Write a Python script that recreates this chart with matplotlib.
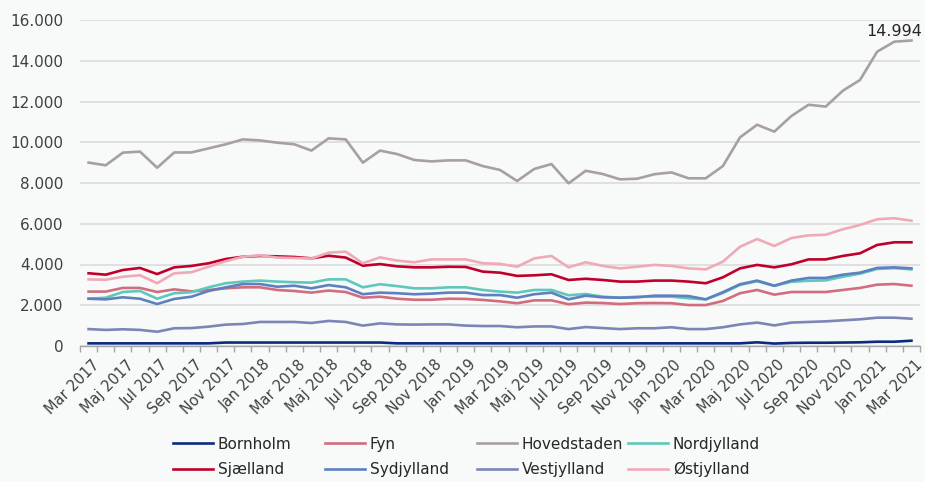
import matplotlib
matplotlib.use("Agg")
import matplotlib.pyplot as plt
from matplotlib.ticker import FuncFormatter, FixedLocator
from matplotlib.transforms import ScaledTranslation

plt.rcParams['font.family'] = ['DejaVu Sans']

month_names = ["Jan", "Feb", "Mar", "Apr", "Maj", "Jun", "Jul", "Aug", "Sep", "Okt", "Nov", "Dec"]
months = []
for k in range(49):
    m = (2 + k) % 12
    y = 2017 + (2 + k) // 12
    months.append(f"{month_names[m]} {y}")

Bornholm = [130, 130, 130, 130, 130, 130, 130, 130, 170, 170, 170, 170, 170, 170, 170, 170, 170, 170,
            130, 130, 130, 130, 130, 130, 130, 130, 130, 130, 130, 130, 130, 130, 130, 130, 130, 130,
            130, 130, 130, 180, 120, 150, 160, 160, 170, 180, 210, 210, 260]
Fyn = [2670, 2670, 2850, 2850, 2650, 2780, 2680, 2750, 2830, 2880, 2880, 2750, 2700, 2620, 2720, 2650,
       2370, 2420, 2320, 2270, 2270, 2320, 2310,
       2260, 2190, 2100, 2240, 2240, 2050, 2130, 2110, 2060, 2100, 2110, 2100, 2010, 2010, 2210, 2590,
       2750, 2520, 2650, 2650, 2650, 2750, 2850, 3010, 3040, 2960]
Hovedstaden = [9000, 8870, 9490, 9540, 8750, 9500, 9500, 9700, 9900, 10140, 10090, 9980, 9900, 9590,
               10190, 10140, 9000, 9590, 9420, 9130, 9060, 9110, 9110,
               8830, 8640, 8100, 8690, 8930, 7985, 8600, 8440, 8180, 8210, 8430, 8520, 8230, 8230, 8830,
               10240, 10860, 10520, 11290, 11840, 11750, 12530, 13055, 14445, 14935, 14994]
Nordjylland = [2320, 2370, 2650, 2700, 2320, 2590, 2640, 2880, 3080, 3160, 3210, 3160, 3130, 3110, 3270,
               3270, 2880, 3030, 2940, 2830, 2830, 2880, 2880,
               2750, 2670, 2620, 2750, 2750, 2490, 2550, 2420, 2370, 2420, 2420, 2420, 2340, 2290, 2600,
               3000, 3180, 2950, 3150, 3200, 3220, 3400, 3550, 3780, 3820, 3760]
Sjaelland = [3570, 3500, 3730, 3830, 3530, 3860, 3930, 4060, 4270, 4380, 4420, 4400, 4370, 4300, 4430,
             4340, 3940, 4020, 3910, 3860, 3860, 3890, 3880,
             3650, 3600, 3440, 3470, 3520, 3240, 3300, 3240, 3160, 3160, 3210, 3210, 3160, 3080, 3370,
             3810, 3980, 3860, 4010, 4250, 4250, 4420, 4550, 4960, 5090, 5090]
Sydjylland = [2320, 2290, 2390, 2320, 2060, 2310, 2420, 2700, 2880, 3040, 3040, 2910, 2960, 2830, 2990,
              2880, 2540, 2620, 2590, 2540, 2570, 2620, 2620,
              2500, 2500, 2370, 2540, 2620, 2290, 2470, 2390, 2370, 2390, 2470, 2470, 2450, 2290, 2640,
              3030, 3210, 2960, 3210, 3340, 3340, 3500, 3600, 3830, 3860, 3810]
Vestjylland = [830, 790, 820, 790, 700, 870, 880, 950, 1050, 1080, 1180, 1180, 1180, 1130, 1230, 1180,
               1000, 1110, 1060, 1050, 1060, 1060, 1000,
               980, 980, 920, 960, 960, 830, 930, 880, 830, 870, 870, 920, 830, 830, 920, 1060, 1150,
               1010, 1150, 1180, 1210, 1260, 1310, 1390, 1390, 1340]
Ostjylland = [3270, 3250, 3400, 3470, 3080, 3570, 3620, 3890, 4160, 4380, 4450, 4340, 4320, 4290, 4580,
              4630, 4060, 4350, 4190, 4110, 4250, 4250, 4250,
              4060, 4030, 3890, 4300, 4420, 3860, 4110, 3930, 3810, 3890, 3980, 3930, 3810, 3760, 4140,
              4870, 5250, 4910, 5300, 5430, 5460, 5730, 5940, 6220, 6270, 6150]

series_names = ["Bornholm", "Fyn", "Hovedstaden", "Nordjylland", "Sjælland", "Sydjylland",
                "Vestjylland", "Østjylland"]
series_values = [Bornholm, Fyn, Hovedstaden, Nordjylland, Sjaelland, Sydjylland, Vestjylland, Ostjylland]
colors = ["#0b2c7e", "#d16d7e", "#a6a19f", "#5ec9bb", "#c0002a", "#5e80bf", "#7c86b6", "#f0a9b6"]

bg = "#f8f9f9"
fig = plt.figure(figsize=(9.25, 4.82), dpi=100, facecolor=bg)
ax = fig.add_axes([80 / 925, 1 - 346 / 482, 840 / 925, 326 / 482])
ax.set_facecolor(bg)

x = list(range(len(months)))
lines = {}
for name, vals, c in zip(series_names, series_values, colors):
    (ln,) = ax.plot(x, vals, color=c, lw=1.9, solid_joinstyle='round', label=name, zorder=3)
    lines[name] = ln

ax.set_xlim(-0.5, len(months) - 0.5)
ax.set_ylim(0, 16000)
ax.set_yticks(range(0, 16001, 2000))
ax.yaxis.set_major_formatter(FuncFormatter(lambda v, p: f"{int(v):,}".replace(",", ".")))
ax.grid(axis='y', color='#d9d9d9', lw=1.1, zorder=0)
ax.set_axisbelow(True)

for s in ['top', 'right', 'left']:
    ax.spines[s].set_visible(False)
ax.spines['bottom'].set_color('#a6a6a6')
ax.spines['bottom'].set_linewidth(1.0)

ax.xaxis.set_major_locator(FixedLocator(x[::2]))
ax.set_xticklabels(months[::2], rotation=45, ha='right', rotation_mode='anchor')
ax.xaxis.set_minor_locator(FixedLocator([i - 0.5 for i in range(len(months) + 1)]))
ax.tick_params(axis='x', which='major', length=0, pad=8, labelsize=10.5, labelcolor='#404040')
ax.tick_params(axis='x', which='minor', length=4, color='#a6a6a6', width=1.0)
ax.tick_params(axis='y', length=0, pad=12, labelsize=11, labelcolor='#404040')
shift = ScaledTranslation(3 / 100, 0, fig.dpi_scale_trans)
for lbl in ax.get_xticklabels():
    lbl.set_transform(lbl.get_transform() + shift)

ax.annotate(f"{Hovedstaden[-1]:,}".replace(",", "."), xy=(x[-1], Hovedstaden[-1]),
            xytext=(8, 3), textcoords='offset points', ha='right', va='baseline',
            fontsize=11.5, color='#262626', annotation_clip=False)

columns = [["Bornholm", "Sjælland"], ["Fyn", "Sydjylland"], ["Hovedstaden", "Vestjylland"],
           ["Nordjylland", "Østjylland"]]
col_x = [173, 325, 477, 628]
for cx, names in zip(col_x, columns):
    leg = fig.legend([lines[n] for n in names], names, loc='center left',
                     bbox_to_anchor=(cx / 925, 1 - 457 / 482), frameon=False, fontsize=11,
                     handlelength=2.6, handletextpad=0.33, borderpad=0, borderaxespad=0,
                     labelspacing=0.7)
    for t in leg.get_texts():
        t.set_color('#262626')

fig.savefig("out.png", dpi=100, facecolor=bg)
